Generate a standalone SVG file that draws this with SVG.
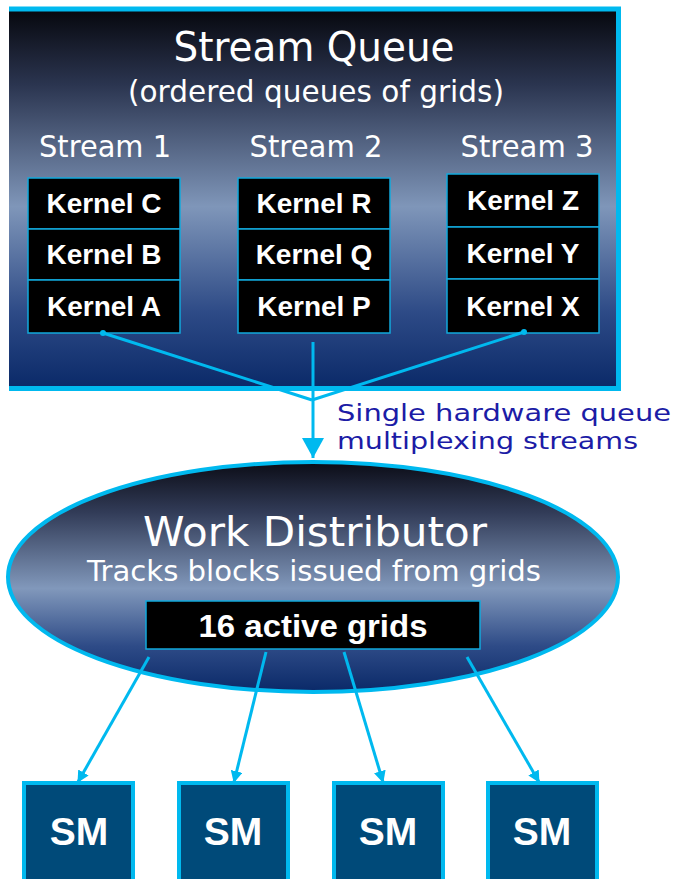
<svg xmlns="http://www.w3.org/2000/svg" width="677" height="879" viewBox="0 0 677 879">
  <defs>
    <linearGradient id="queueFill" x1="0" y1="0" x2="0" y2="1">
      <stop offset="0" stop-color="#06070d"/>
      <stop offset="0.2" stop-color="#2b3550"/>
      <stop offset="0.52" stop-color="#7f96b9"/>
      <stop offset="0.8" stop-color="#2d4a86"/>
      <stop offset="1" stop-color="#0a2968"/>
    </linearGradient>
    <linearGradient id="distFill" x1="0" y1="0" x2="0" y2="1">
      <stop offset="0" stop-color="#0b0c16"/>
      <stop offset="0.22" stop-color="#323c58"/>
      <stop offset="0.55" stop-color="#8198bb"/>
      <stop offset="0.8" stop-color="#2e4b87"/>
      <stop offset="1" stop-color="#0a2968"/>
    </linearGradient>
    <marker id="arrow" markerWidth="12" markerHeight="12" refX="11" refY="6" orient="auto" markerUnits="userSpaceOnUse" viewBox="0 0 12 12">
      <path d="M0 0 L12 6 L0 12 Z" fill="#00b9ef"/>
    </marker>
    <marker id="arrowBig" markerWidth="22" markerHeight="22" refX="20" refY="11" orient="auto" markerUnits="userSpaceOnUse" viewBox="0 0 22 22">
      <path d="M0 0 L20 11 L0 22 Z" fill="#00b9ef"/>
    </marker>
  </defs>
  <style>
    .title { font-family: "DejaVu Sans", "Liberation Sans", sans-serif; fill: #ffffff; }
    .kbox { fill: #000000; stroke: #12a9dc; stroke-width: 1.5; }
    .ktext { font-family: "Liberation Sans", Arial, sans-serif; font-weight: bold; font-size: 28px; fill: #ffffff; text-anchor: middle; }
    .sm { fill: #004a79; stroke: #00b9ef; stroke-width: 4; }
    .smtext { font-family: "Liberation Sans", Arial, sans-serif; font-weight: bold; font-size: 39px; fill: #ffffff; text-anchor: middle; }
    .wire { stroke: #00b9ef; stroke-width: 3; fill: none; }
    .note { font-family: "DejaVu Sans", "Liberation Sans", sans-serif; fill: #1c1ca6; font-size: 23px; }
  </style>

  <!-- Stream queue panel -->
  <g id="stream-queue">
    <rect x="9" y="9" width="610" height="380" fill="url(#queueFill)"/>
    <path d="M9 9 H618.5 V388.5 H9" fill="none" stroke="#00b9ef" stroke-width="5"/>
    <text class="title" x="314" y="61" font-size="40" text-anchor="middle" textLength="281" lengthAdjust="spacingAndGlyphs">Stream Queue</text>
    <text class="title" x="316" y="102" font-size="30" text-anchor="middle" textLength="376" lengthAdjust="spacingAndGlyphs">(ordered queues of grids)</text>
    <text class="title" x="105" y="157" font-size="30" text-anchor="middle" textLength="132" lengthAdjust="spacingAndGlyphs">Stream 1</text>
    <text class="title" x="316" y="157" font-size="30" text-anchor="middle" textLength="133" lengthAdjust="spacingAndGlyphs">Stream 2</text>
    <text class="title" x="527" y="157" font-size="30" text-anchor="middle" textLength="133" lengthAdjust="spacingAndGlyphs">Stream 3</text>
  </g>

  <!-- Stream 1 kernels -->
  <g id="stream1">
    <rect class="kbox" x="28" y="178" width="152" height="51"/>
    <rect class="kbox" x="28" y="229" width="152" height="51"/>
    <rect class="kbox" x="28" y="280" width="152" height="53"/>
    <text class="ktext" x="104" y="213">Kernel C</text>
    <text class="ktext" x="104" y="264">Kernel B</text>
    <text class="ktext" x="104" y="316">Kernel A</text>
  </g>

  <!-- Stream 2 kernels -->
  <g id="stream2">
    <rect class="kbox" x="238" y="178" width="152" height="51"/>
    <rect class="kbox" x="238" y="229" width="152" height="51"/>
    <rect class="kbox" x="238" y="280" width="152" height="53"/>
    <text class="ktext" x="314" y="213">Kernel R</text>
    <text class="ktext" x="314" y="264">Kernel Q</text>
    <text class="ktext" x="314" y="316">Kernel P</text>
  </g>

  <!-- Stream 3 kernels -->
  <g id="stream3">
    <rect class="kbox" x="447" y="174" width="152" height="53"/>
    <rect class="kbox" x="447" y="227" width="152" height="52"/>
    <rect class="kbox" x="447" y="279" width="152" height="54"/>
    <text class="ktext" x="523" y="210">Kernel Z</text>
    <text class="ktext" x="523" y="263">Kernel Y</text>
    <text class="ktext" x="523" y="316">Kernel X</text>
  </g>

  <!-- Work distributor -->
  <g id="work-distributor">
    <ellipse cx="313" cy="577" rx="305" ry="115" fill="url(#distFill)" stroke="#00b9ef" stroke-width="4"/>
    <text class="title" x="315" y="546" font-size="41" text-anchor="middle" textLength="344" lengthAdjust="spacingAndGlyphs">Work Distributor</text>
    <text class="title" x="314" y="581" font-size="28" text-anchor="middle" textLength="454" lengthAdjust="spacingAndGlyphs">Tracks blocks issued from grids</text>
  </g>

  <g id="active-grids">
    <rect x="146" y="601" width="334" height="48" fill="#000000" stroke="#12a9dc" stroke-width="1.5"/>
    <text class="ktext" x="313" y="637" textLength="229" lengthAdjust="spacingAndGlyphs" style="font-size:31px">16 active grids</text>
  </g>

  <!-- SM units -->
  <g id="sm1">
    <rect class="sm" x="24" y="783" width="109" height="110"/>
    <text class="smtext" x="79" y="845">SM</text>
  </g>
  <g id="sm2">
    <rect class="sm" x="179" y="783" width="109" height="110"/>
    <text class="smtext" x="233" y="845">SM</text>
  </g>
  <g id="sm3">
    <rect class="sm" x="334" y="783" width="109" height="110"/>
    <text class="smtext" x="388" y="845">SM</text>
  </g>
  <g id="sm4">
    <rect class="sm" x="488" y="783" width="109" height="110"/>
    <text class="smtext" x="542" y="845">SM</text>
  </g>

  <!-- Connectors -->
  <g id="connectors">
    <circle cx="103" cy="333" r="3" fill="#00b9ef"/>
    <circle cx="524" cy="332" r="3" fill="#00b9ef"/>
    <path class="wire" d="M103 333 L312 400"/>
    <path class="wire" d="M524 332 L312 400"/>
    <path class="wire" d="M313 342 L313 458" marker-end="url(#arrowBig)"/>
    <path class="wire" d="M149 657 L78 782" marker-end="url(#arrow)"/>
    <path class="wire" d="M266 652 L234 782" marker-end="url(#arrow)"/>
    <path class="wire" d="M344 652 L383 782" marker-end="url(#arrow)"/>
    <path class="wire" d="M467 657 L539 782" marker-end="url(#arrow)"/>
  </g>

  <g id="queue-note">
    <text class="note" x="337" y="421" textLength="334" lengthAdjust="spacingAndGlyphs">Single hardware queue</text>
    <text class="note" x="337" y="449" textLength="301" lengthAdjust="spacingAndGlyphs">multiplexing streams</text>
  </g>
</svg>
